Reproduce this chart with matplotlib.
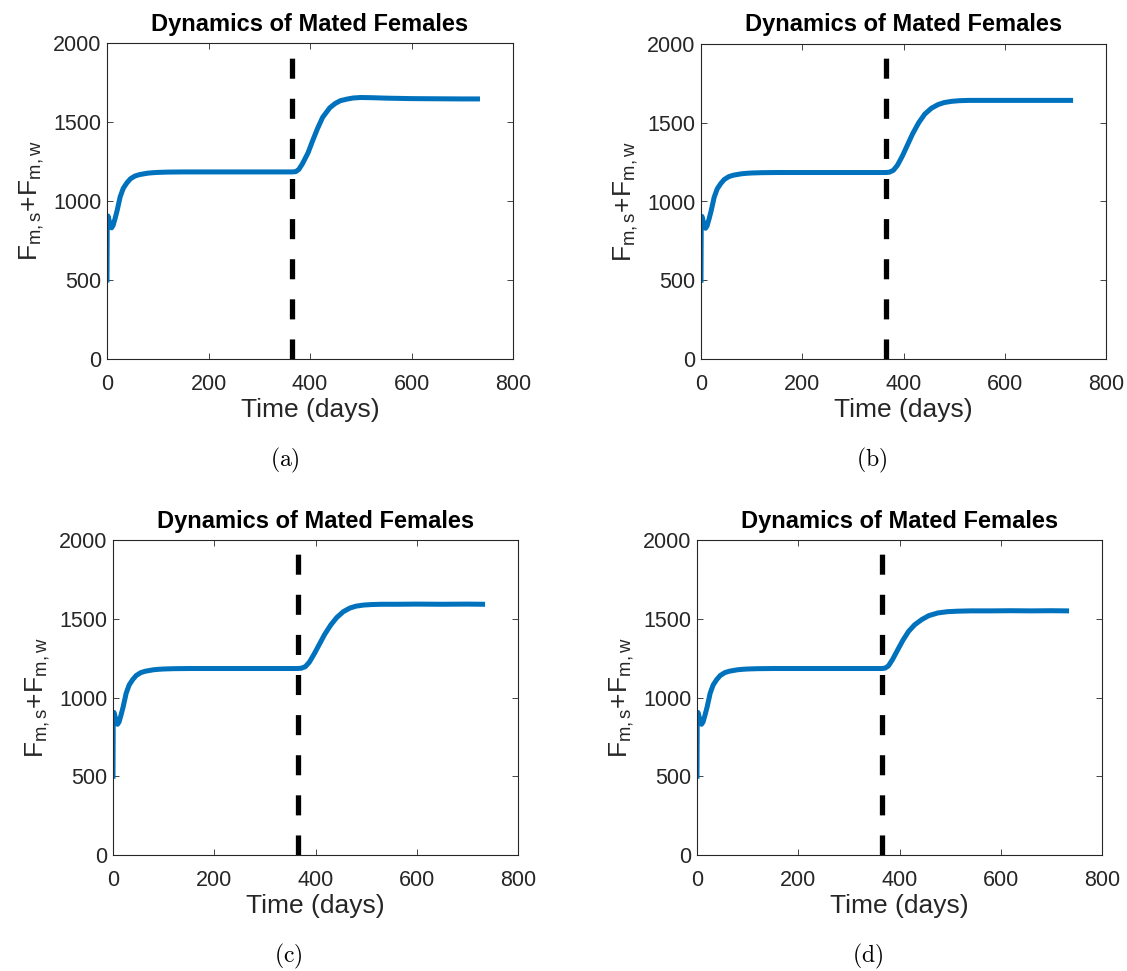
import matplotlib
matplotlib.use("Agg")
import matplotlib.pyplot as plt

# -----------------------------
# Data
# -----------------------------
# first year: identical in all four panels
t_first = [0, 0.5, 2, 4, 6, 9, 12, 16, 20, 26, 32, 39, 46, 55, 64, 71, 80, 90, 100,
           120, 150, 200, 250, 300, 340, 365]
y_first = [500, 880, 905, 880, 850, 830, 845, 890, 940, 1027, 1080, 1114, 1140, 1158, 1167, 1171,
           1176, 1179, 1181, 1183, 1184, 1184, 1184, 1184, 1184, 1184]

# second year, per panel
t_a = [365, 372, 378, 385, 396, 405, 415, 425, 439, 450, 460, 473, 485, 500, 520, 550, 600, 650, 700, 730]
y_a = [1184, 1186, 1200, 1235, 1304, 1380, 1460, 1530, 1590, 1618, 1635, 1645, 1652, 1655, 1654,
       1651, 1648, 1647, 1646, 1646]

t_b = [365, 372, 380, 388, 398, 408, 418, 430, 442, 455, 468, 480, 495, 510, 530, 560, 600, 650, 700, 730]
y_b = [1184, 1186, 1198, 1230, 1290, 1360, 1430, 1500, 1555, 1592, 1615, 1628, 1636, 1640, 1642,
       1642, 1642, 1642, 1642, 1642]

t_c = [365, 372, 380, 388, 398, 408, 418, 430, 442, 455, 468, 480, 495, 510, 530, 560, 600, 650, 700, 730]
y_c = [1184, 1186, 1196, 1225, 1280, 1340, 1400, 1460, 1508, 1545, 1568, 1580, 1587, 1590, 1592,
       1592, 1593, 1592, 1593, 1592]

t_d = [365, 371, 378, 386, 396, 407, 418, 430, 444, 458, 476, 495, 515, 540, 580, 620, 660, 700, 730]
y_d = [1184, 1186, 1200, 1240, 1300, 1365, 1420, 1462, 1495, 1520, 1537, 1545, 1548, 1550, 1550,
       1551, 1550, 1551, 1550]

second_year = [(t_a, y_a), (t_b, y_b), (t_c, y_c), (t_d, y_d)]
captions = ["(a)", "(b)", "(c)", "(d)"]

switch_day = 365
xticks = [0, 200, 400, 600, 800]
yticks = [0, 500, 1000, 1500, 2000]

# -----------------------------
# Figure layout (pixel boxes)
# -----------------------------
plt.rcParams["font.family"] = ["Liberation Sans", "DejaVu Sans"]
plt.rcParams["mathtext.fontset"] = "custom"
plt.rcParams["mathtext.rm"] = "Liberation Sans"
plt.rcParams["mathtext.it"] = "Liberation Sans:italic"

W, H = 1127, 971
fig = plt.figure(figsize=(W / 100, H / 100), dpi=100)

boxes = [(107, 43, 513, 359), (701, 44, 1106, 359),
         (113, 540, 518, 855), (697, 540, 1102, 855)]
caption_pos = [(285, 460), (872, 460), (288, 956), (868, 956)]

blue = "#0072BD"
grey = "#262626"

for (x0, y0, x1, y1), (t2, y2), cap, (cx, cy) in zip(boxes, second_year, captions, caption_pos):
    ax = fig.add_axes([x0 / W, 1 - y1 / H, (x1 - x0) / W, (y1 - y0) / H])

    ax.plot([switch_day, switch_day], [0, 2000], color="black", lw=3.8,
            ls=(0, (3.8, 3.8)), solid_capstyle="butt", dash_capstyle="butt")
    ax.plot(t_first + t2[1:], y_first + y2[1:], color=blue, lw=3.6)

    ax.set_xlim(0, 800)
    ax.set_ylim(0, 2000)
    ax.set_xticks(xticks)
    ax.set_yticks(yticks)
    ax.tick_params(direction="in", length=4, width=0.6, labelsize=15.5,
                   top=True, right=True, colors=grey, labelcolor=grey)
    ax.tick_params(axis="x", pad=11)
    ax.tick_params(axis="y", pad=4)
    for s in ax.spines.values():
        s.set_linewidth(0.8)
        s.set_color(grey)

    ax.set_title("Dynamics of Mated Females", fontsize=17, fontweight="bold", pad=9)
    ax.set_xlabel("Time (days)", fontsize=19, color=grey, labelpad=2)
    ax.set_ylabel(r"F$_{\rm m,s}$+F$_{\rm m,w}$", fontsize=19, color=grey, labelpad=5)

    fig.text(cx / W, 1 - cy / H, r"$\mathrm{" + cap + "}$", math_fontfamily="cm",
             fontsize=17, ha="center", va="center")

fig.savefig("out.png", dpi=100)
